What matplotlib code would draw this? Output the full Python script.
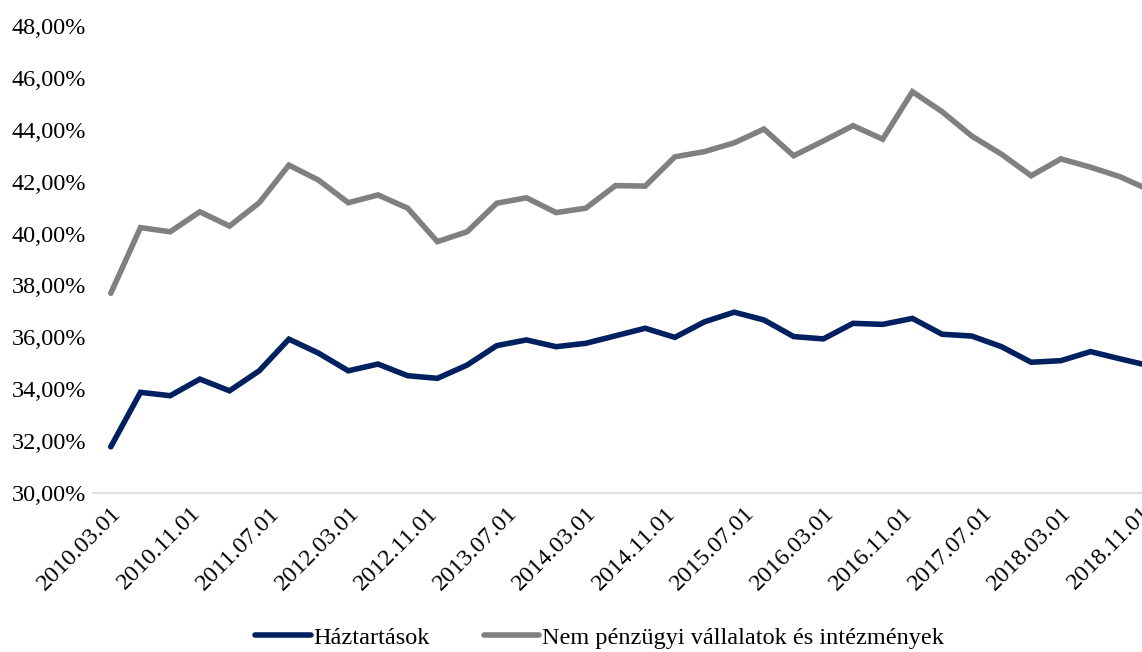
import matplotlib
matplotlib.use("Agg")
import matplotlib.pyplot as plt
from matplotlib.ticker import FuncFormatter, FixedLocator

# Quarterly observations starting 2010.03.01
start_year, start_month = 2010, 3
dates = []
y, m = start_year, start_month
for _ in range(36):
    dates.append(f"{y}.{m:02d}.01")
    m += 3
    if m > 12:
        m -= 12
        y += 1

haztartasok = [31.78, 33.88, 33.75, 34.39, 33.94, 34.71, 35.93, 35.39, 34.71, 34.97,
               34.52, 34.42, 34.93, 35.68, 35.90, 35.64, 35.77, 36.06, 36.35, 36.00,
               36.60, 36.97, 36.67, 36.03, 35.94, 36.54, 36.50, 36.73, 36.12, 36.05,
               35.64, 35.04, 35.10, 35.45, 35.17, 34.90]
vallalatok = [37.70, 40.23, 40.07, 40.84, 40.29, 41.19, 42.64, 42.06, 41.19, 41.49,
              40.98, 39.69, 40.07, 41.17, 41.38, 40.81, 40.98, 41.85, 41.83, 42.96,
              43.16, 43.50, 44.03, 43.00, 43.57, 44.16, 43.64, 45.47, 44.70, 43.76,
              43.06, 42.23, 42.88, 42.56, 42.19, 41.67]

tick_labels = ["2010.03.01", "2010.11.01", "2011.07.01", "2012.03.01", "2012.11.01",
               "2013.07.01", "2014.03.01", "2014.11.01", "2015.07.01", "2016.03.01",
               "2016.11.01", "2017.07.01", "2018.03.01", "2018.11.01"]

series_names = ["Háztartások", "Nem pénzügyi vállalatok és intézmények"]
colors = ["#002060", "#808080"]

def month_index(s):
    yy, mm, _ = s.split(".")
    return (int(yy) - start_year) * 12 + (int(mm) - start_month)

x = [month_index(d) for d in dates]
tick_pos = [month_index(d) for d in tick_labels]

plt.rcParams['font.family'] = ['Liberation Serif', 'DejaVu Serif']

fig = plt.figure(figsize=(11.42, 6.52), dpi=100)
ax = fig.add_axes([0.0814, 0.2439, 0.9186, 0.7161])

ax.plot(x, haztartasok, color=colors[0], lw=4.0, label=series_names[0],
        solid_joinstyle='miter', solid_capstyle='round')
ax.plot(x, vallalatok, color=colors[1], lw=4.0, label=series_names[1],
        solid_joinstyle='miter', solid_capstyle='round')

ax.set_ylim(30, 48)
ax.set_yticks([30, 32, 34, 36, 38, 40, 42, 44, 46, 48])
ax.yaxis.set_major_formatter(FuncFormatter(lambda v, p: f"{v:.2f}".replace(".", ",") + "%"))
ax.set_xlim(-1.8, 104.2)
ax.xaxis.set_major_locator(FixedLocator(tick_pos))
ax.set_xticklabels(tick_labels, rotation=45, ha='right', va='top', rotation_mode='anchor')

for s in ['top', 'right', 'left']:
    ax.spines[s].set_visible(False)
ax.spines['bottom'].set_color('#d9d9d9')
ax.spines['bottom'].set_linewidth(1.2)
ax.tick_params(axis='both', length=0, labelsize=17.5, colors='black')
ax.tick_params(axis='y', pad=5)
ax.tick_params(axis='x', pad=7)

leg = fig.legend(loc='center', bbox_to_anchor=(0.525, 0.022), ncol=2, frameon=False,
                 fontsize=17.5, handlelength=2.3, handletextpad=0.1, columnspacing=2.2)

fig.savefig("out.png", dpi=100)
